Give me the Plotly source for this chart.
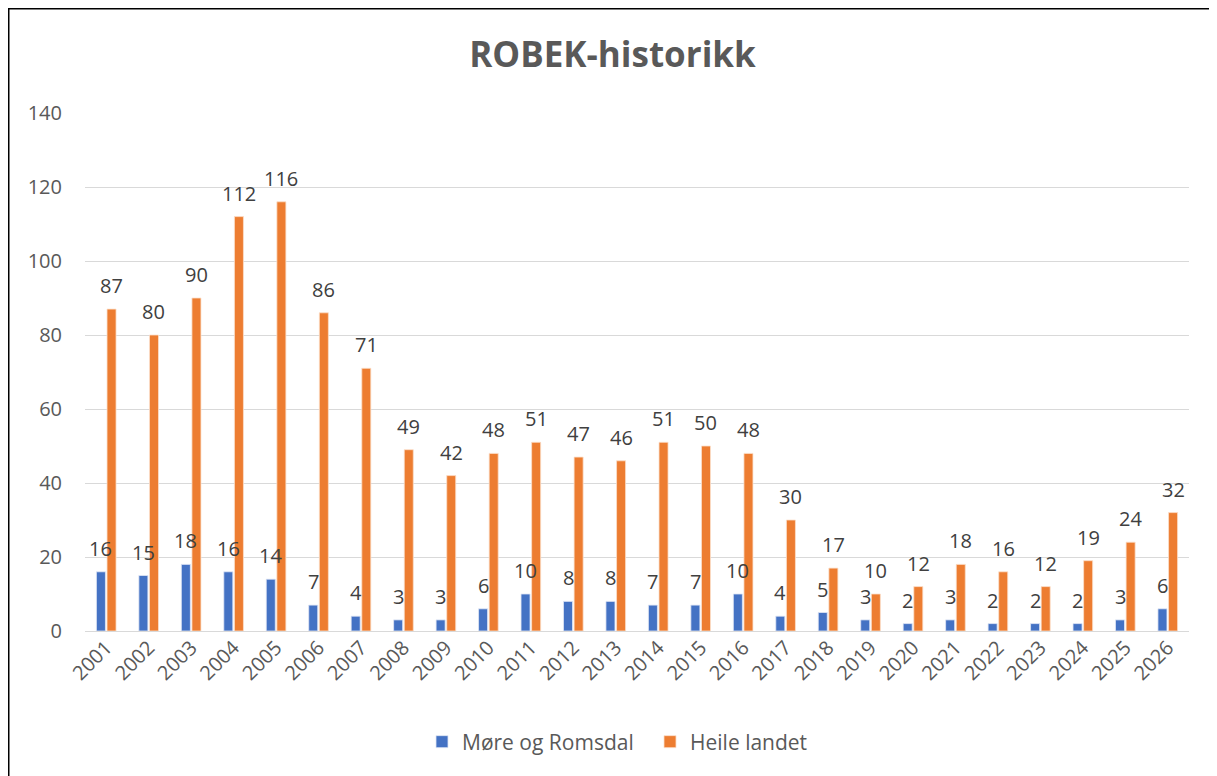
import plotly.graph_objects as go

years = [str(y) for y in range(2001, 2027)]
more_romsdal = [16, 15, 18, 16, 14, 7, 4, 3, 3, 6, 10, 8, 8, 7, 7, 10, 4, 5, 3, 2, 3, 2, 2, 2, 3, 6]
heile_landet = [87, 80, 90, 112, 116, 86, 71, 49, 42, 48, 51, 47, 46, 51, 50, 48, 30, 17, 10, 12, 18, 16, 12, 19, 24, 32]
y_ticks = [0, 20, 40, 60, 80, 100, 120, 140]

FONT = "Open Sans"
OFF = 8  # browser body margin
W, H = 1217 - OFF, 776 - OFF
L, R, T, B = 85 - OFF, 28, 113 - OFF, 145
pw, ph = W - L - R, H - T - B

def px(x):  # screen x -> paper
    return (x - OFF - L) / pw

def py(y):  # screen y -> paper
    return (H - B - (y - OFF)) / ph

fig = go.Figure()
fig.add_trace(go.Bar(
    x=years, y=more_romsdal, name="Møre og Romsdal",
    marker=dict(color="#4472c4", line=dict(color="#dfe6f5", width=0.8)),
))
fig.add_trace(go.Bar(
    x=years, y=heile_landet, name="Heile landet",
    marker=dict(color="#ed7d31", line=dict(color="#fbe0cc", width=0.8)),
))

annotations = []
for series, shift in ((more_romsdal, -5.3), (heile_landet, 5.3)):
    for i, v in enumerate(series):
        annotations.append(dict(
            x=i, y=v, xref="x", yref="y", text=str(v), showarrow=False,
            xanchor="center", yanchor="bottom", xshift=shift, yshift=8,
            font=dict(size=20, color="#404040", family=FONT),
        ))

fig.update_layout(
    width=W, height=H,
    margin=dict(l=L, r=R, t=T, b=B),
    paper_bgcolor="white", plot_bgcolor="white",
    font=dict(family=FONT, color="#595959", size=20),
    title=dict(text="<b>ROBEK-historikk</b>", x=0.5, xref="container", xanchor="center",
               y=1 - (55 - OFF) / H, yanchor="middle",
               font=dict(size=35, color="#595959", family=FONT)),
    barmode="group", bargap=0.5, bargroupgap=0.15,
    showlegend=True,
    legend=dict(orientation="h", x=px(650), xanchor="center", xref="paper",
                y=py(742), yanchor="middle", font=dict(size=21, color="#595959"),
                itemwidth=30, entrywidth=183, tracegroupgap=0),
    xaxis=dict(type="category", tickangle=-45, showgrid=False, showline=False,
               ticks="", tickfont=dict(size=20, color="#595959"),
               range=[-0.5, len(years) - 0.5]),
    yaxis=dict(range=[0, 140], tickvals=y_ticks, showgrid=True, gridcolor="#d9d9d9",
               gridwidth=1, zeroline=True, zerolinecolor="#d9d9d9", zerolinewidth=1,
               showline=False, ticks="", ticklabelstandoff=22,
               tickfont=dict(size=20, color="#595959")),
    annotations=annotations,
    shapes=[dict(type="rect", xref="paper", yref="paper",
                 x0=px(8.5), x1=px(1240), y0=py(8.5), y1=py(800),
                 line=dict(color="black", width=2), fillcolor="rgba(0,0,0,0)", layer="above")],
)

fig.write_html("out.html")
